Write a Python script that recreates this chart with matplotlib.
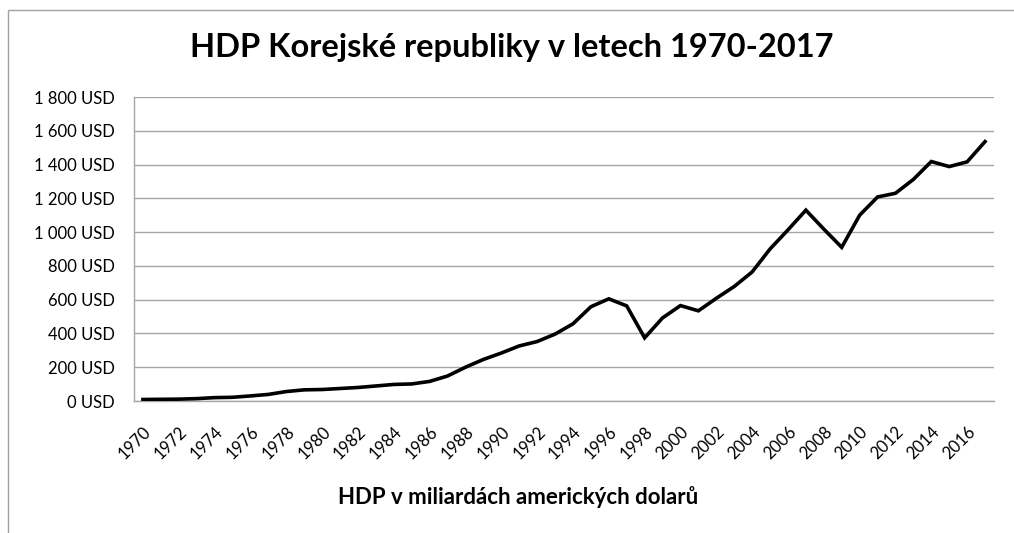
import matplotlib
matplotlib.use("Agg")
import matplotlib.pyplot as plt
from matplotlib.patches import Rectangle

plt.rcParams['font.family'] = ['Lato', 'DejaVu Sans']

years = list(range(1970, 2018))
gdp = [9, 10, 11, 14, 20, 22, 30, 39, 56, 66, 68, 74, 80, 89, 98, 101, 116, 148,
       200, 246, 284, 326, 352, 396, 457, 558, 605, 563, 374, 492, 565, 534,
       608, 678, 764, 900, 1013, 1130, 1018, 910, 1100, 1208, 1230, 1312,
       1418, 1388, 1416, 1536]
yticks = list(range(0, 2000, 200))
ytick_labels = [f"{v:,} USD".replace(",", " ") for v in yticks]
xtick_years = years[::2]

title = "HDP Korejské republiky v letech 1970-2017"
xlabel = "HDP v miliardách amerických dolarů"

W, H = 1014, 533
fig = plt.figure(figsize=(W / 100, H / 100), dpi=100)
ax = fig.add_axes([134 / W, 1 - 401 / H, 860 / W, 304 / H])

# category axis: each year occupies one slot, point in the middle
xs = list(range(len(years)))
ax.plot(xs, gdp, color='black', linewidth=2.6, solid_joinstyle='miter', zorder=3)
ax.set_xlim(-0.5, len(years) - 0.5)
ax.set_ylim(0, 1800)

ax.set_yticks(yticks)
ax.set_yticklabels(ytick_labels, fontsize=12)
ax.set_xticks([years.index(y) for y in xtick_years])
ax.set_xticklabels([str(y) for y in xtick_years], fontsize=12,
                   rotation=45, ha='right', rotation_mode='anchor')
ax.tick_params(axis='both', length=0)
ax.tick_params(axis='y', pad=14)
ax.tick_params(axis='x', pad=16)

ax.grid(axis='y', color='#a6a6a6', linewidth=1.0)
ax.set_axisbelow(True)
for s in ['top', 'right']:
    ax.spines[s].set_visible(False)
for s in ['left', 'bottom']:
    ax.spines[s].set_color('#a6a6a6')
    ax.spines[s].set_linewidth(1.0)

fig.text(512 / W, 1 - 48 / H, title, ha='center', va='center',
         fontsize=23.5, fontweight='bold')
fig.text(518 / W, 1 - 497 / H, xlabel, ha='center', va='center',
         fontsize=16, fontweight='bold')

# chart frame (only left and top edges are visible in the crop)
fig.patches.append(Rectangle((8 / W, -0.2), 1.2, 1 - 10 / H + 0.2,
                             transform=fig.transFigure, fill=False,
                             edgecolor='#a0a0a0', linewidth=1.0))

fig.savefig("out.png", dpi=100)
